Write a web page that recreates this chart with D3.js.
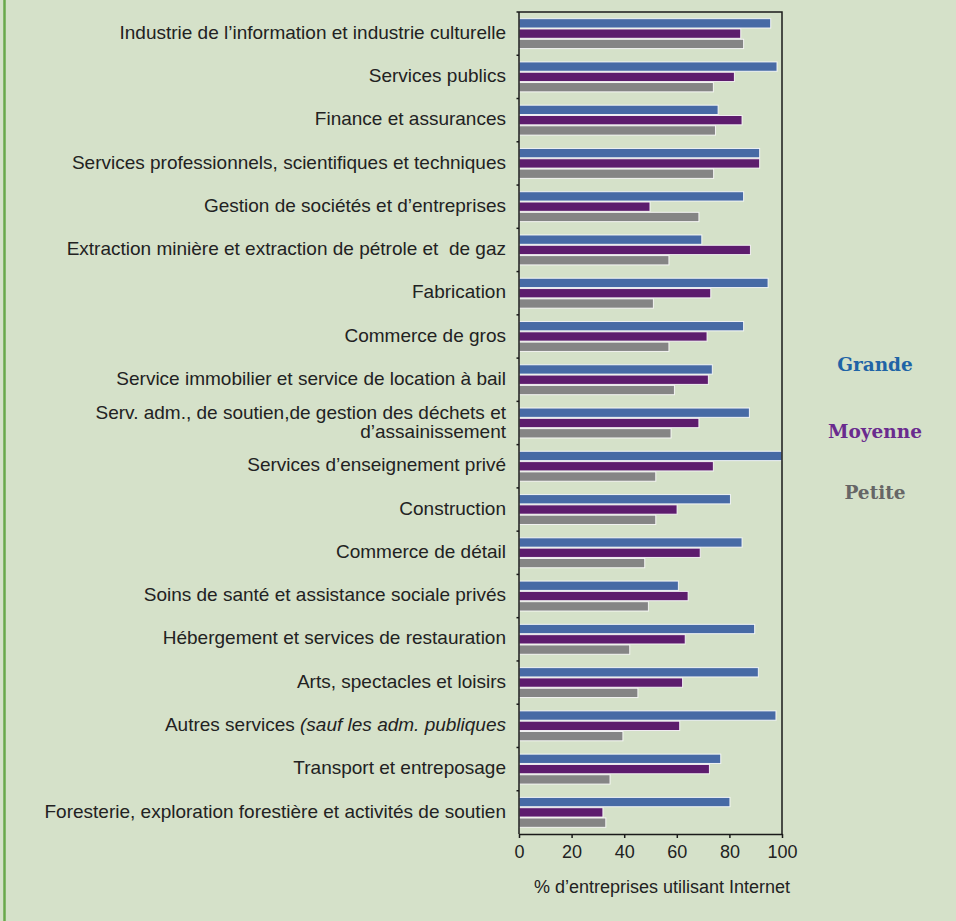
<!DOCTYPE html>
<html lang="fr">
<head>
<meta charset="utf-8">
<script src="https://cdn.jsdelivr.net/npm/d3@7"></script>
<style>
  html, body { margin: 0; padding: 0; background: #d5e1c9; }
  svg { display: block; }
</style>
</head>
<body>
<svg id="chart" width="956" height="921"></svg>
<script>
// Secteurs d'activité, de haut en bas
const categories = [
  "Industrie de l’information et industrie culturelle",
  "Services publics",
  "Finance et assurances",
  "Services professionnels, scientifiques et techniques",
  "Gestion de sociétés et d’entreprises",
  "Extraction minière et extraction de pétrole et\u00a0 de gaz",
  "Fabrication",
  "Commerce de gros",
  "Service immobilier et service de location à bail",
  "Serv. adm., de soutien,de gestion des déchets et|d’assainissement",
  "Services d’enseignement privé",
  "Construction",
  "Commerce de détail",
  "Soins de santé et assistance sociale privés",
  "Hébergement et services de restauration",
  "Arts, spectacles et loisirs",
  "Autres services |(sauf les adm. publiques",
  "Transport et entreposage",
  "Foresterie, exploration forestière et activités de soutien"
];

// % d'entreprises utilisant Internet, par taille d'entreprise
const grande  = [95.7, 98.1, 75.7, 91.5, 85.4, 69.5, 94.7, 85.4, 73.5, 87.6, 100, 80.4, 84.8, 60.6, 89.6, 91.0, 97.7, 76.7, 80.2];
const moyenne = [84.3, 81.9, 84.8, 91.5, 49.8, 88.0, 72.9, 71.5, 72.0, 68.4, 73.9, 60.1, 68.9, 64.3, 63.2, 62.2, 61.1, 72.4, 31.9];
const petite  = [85.4, 73.9, 74.7, 74.0, 68.4, 57.0, 51.1, 57.0, 59.1, 57.8, 52.0, 52.0, 47.8, 49.2, 42.1, 45.2, 39.5, 34.6, 33.0];

const seriesNames = ["Grande", "Moyenne", "Petite"];
const seriesValues = [grande, moyenne, petite];
const xTicks = [0, 20, 40, 60, 80, 100];
const xTitle = "% d’entreprises utilisant Internet";

const barColors = { Grande: "#476aa5", Moyenne: "#5d1c6d", Petite: "#858585" };
const legendColors = { Grande: "#1f64a6", Moyenne: "#6a2b8e", Petite: "#666666" };

const sans = "'Liberation Sans', Arial, sans-serif";
const svg = d3.select("#chart");

// Left accent rule of the panel
svg.append("line")
  .attr("x1", 4.5).attr("x2", 4.5).attr("y1", 0).attr("y2", 921)
  .attr("stroke", "#69a84b").attr("stroke-width", 2.5);

const plot = { left: 519, right: 782, top: 12, bottom: 834 };

const x = d3.scaleLinear().domain([0, 100]).range([plot.left, plot.right]);
const y0 = d3.scaleBand().domain(categories).range([plot.top, plot.bottom]).padding(0);
const y1 = d3.scaleBand().domain(seriesNames).range([0, y0.bandwidth()]).paddingInner(0).paddingOuter(0.6);

const rows = categories.map((c, i) => ({
  cat: c,
  vals: seriesNames.map((s, k) => ({ s, v: seriesValues[k][i] }))
}));

// Bars
const g = svg.append("g");
const groups = g.selectAll("g.cat").data(rows).join("g")
  .attr("class", "cat")
  .attr("transform", d => `translate(0,${y0(d.cat)})`);

groups.selectAll("rect").data(d => d.vals).join("rect")
  .attr("x", x(0))
  .attr("y", d => y1(d.s) + 0.5)
  .attr("width", d => x(d.v) - x(0))
  .attr("height", y1.bandwidth() - 1)
  .attr("fill", d => barColors[d.s])
  .attr("stroke", "#ffffff")
  .attr("stroke-opacity", 0.85)
  .attr("stroke-width", 1);

// Frame: top and right edges
svg.append("path")
  .attr("d", `M${plot.left},${plot.top}H${plot.right}V${plot.bottom}`)
  .attr("fill", "none").attr("stroke", "#1a1a1a").attr("stroke-width", 1.5);

// Category axis with boundary ticks
const yAxisG = svg.append("g").attr("transform", `translate(${plot.left},0)`);
yAxisG.append("line")
  .attr("x1", 0).attr("x2", 0).attr("y1", plot.top).attr("y2", plot.bottom)
  .attr("stroke", "#1a1a1a").attr("stroke-width", 1.5);
yAxisG.selectAll("line.b").data(categories).join("line")
  .attr("class", "b")
  .attr("x1", -2.5).attr("x2", 0)
  .attr("y1", d => y0(d)).attr("y2", d => y0(d))
  .attr("stroke", "#1a1a1a").attr("stroke-width", 1.5);

// Category labels
const labels = svg.append("g")
  .attr("font-family", sans)
  .attr("font-size", 19)
  .attr("fill", "#222")
  .attr("text-anchor", "end");

rows.forEach(d => {
  const cy = y0(d.cat) + y0.bandwidth() / 2 - 1.5;
  const parts = d.cat.split("|");
  if (d.cat.startsWith("Autres")) {
    const t = labels.append("text").attr("x", 506).attr("y", cy).attr("dy", "0.35em");
    t.append("tspan").text(parts[0].replace(/ $/, "\u00a0"));
    t.append("tspan").attr("font-style", "italic").text(parts[1]);
  } else if (parts.length === 2) {
    labels.append("text").attr("x", 506).attr("y", cy - 9.5).attr("dy", "0.35em").text(parts[0]);
    labels.append("text").attr("x", 506).attr("y", cy + 9.5).attr("dy", "0.35em").text(parts[1]);
  } else {
    labels.append("text").attr("x", 506).attr("y", cy).attr("dy", "0.35em").text(d.cat);
  }
});

// Value axis
const xAxis = d3.axisBottom(x).tickValues(xTicks).tickSize(4).tickPadding(7).tickSizeOuter(0);
const xAxisG = svg.append("g")
  .attr("transform", `translate(0,${plot.bottom})`)
  .call(xAxis);
xAxisG.select(".domain").attr("stroke", "#1a1a1a").attr("stroke-width", 1.5);
xAxisG.selectAll(".tick line").attr("stroke", "#1a1a1a").attr("stroke-width", 1.5);
xAxisG.selectAll(".tick text")
  .attr("font-family", sans)
  .attr("font-size", 18)
  .attr("fill", "#222");

svg.append("text")
  .attr("x", 662).attr("y", 893)
  .attr("text-anchor", "middle")
  .attr("font-family", sans)
  .attr("font-size", 18)
  .attr("fill", "#222")
  .text(xTitle);

// Legend
const legendY = { Grande: 371, Moyenne: 438, Petite: 499 };
svg.append("g").selectAll("text").data(seriesNames).join("text")
  .attr("x", 875)
  .attr("y", d => legendY[d])
  .attr("text-anchor", "middle")
  .attr("font-family", "'DejaVu Serif', serif")
  .attr("font-weight", "bold")
  .attr("font-size", 18.5)
  .attr("fill", d => legendColors[d])
  .text(d => d);
</script>
</body>
</html>
